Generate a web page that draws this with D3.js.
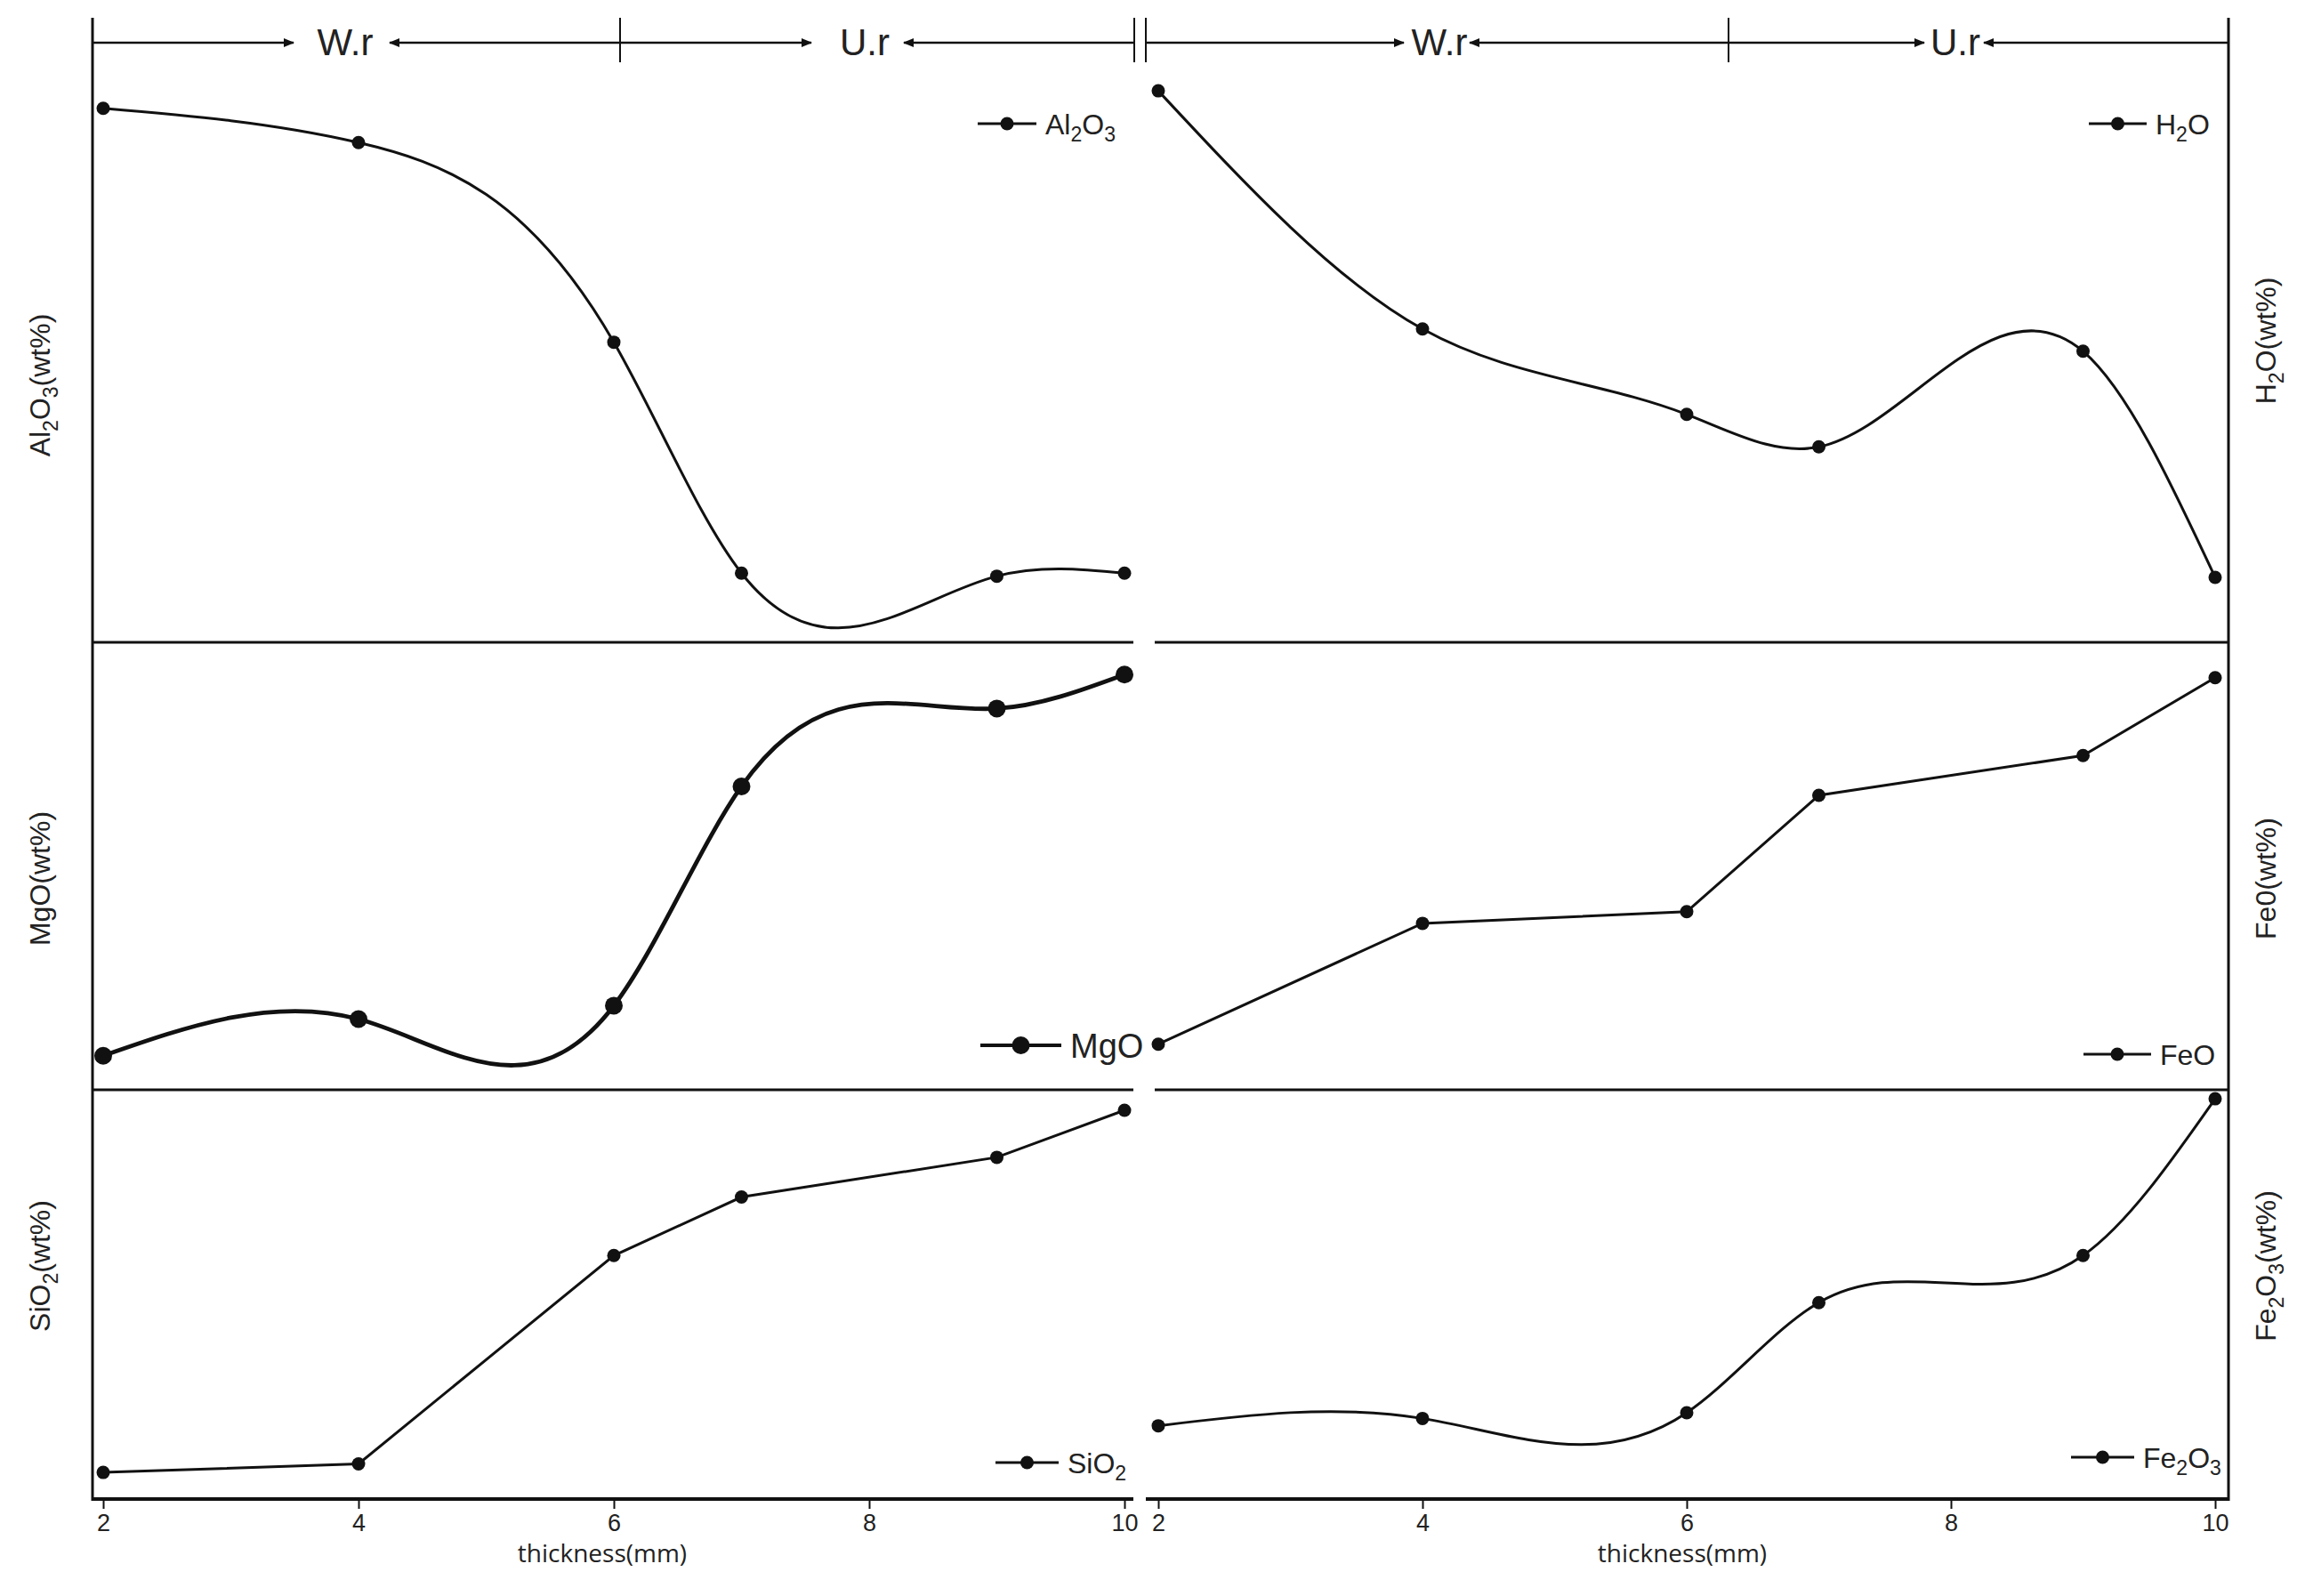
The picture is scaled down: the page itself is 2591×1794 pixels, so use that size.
<!DOCTYPE html>
<html>
<head>
<meta charset="utf-8">
<script src="https://cdn.jsdelivr.net/npm/d3@7"></script>
<style>
body { margin: 0; background: #fff; }
svg { display: block; background: #fff; }
text { fill: #222; font-family: "Liberation Sans Narrow", "Liberation Sans", Arial, sans-serif; }
</style>
</head>
<body>
<div id="main"></div>
<script>
// values, as % of each panel's height (the chart shows no y ticks)
const thickness = [2, 4, 6, 7, 9, 10];
const al2o3 = [88.8, 83.1, 49.9, 11.5, 11.0, 11.5];
const h2o = [91.7, 52.1, 37.9, 32.5, 48.4, 10.8];
const mgo = [7.6, 15.8, 18.8, 67.8, 85.2, 92.8];
const feo = [10.2, 37.2, 39.8, 65.8, 74.7, 92.1];
const sio2 = [6.5, 8.6, 59.5, 73.8, 83.5, 95.0];
const fe2o3 = [17.9, 19.7, 21.1, 48.0, 59.5, 97.8];

const xTicks = [2, 4, 6, 8, 10];
const zoneNames = ["W.r", "U.r"];
const xTitle = "thickness(mm)";

const ctx = {
    SVG_W: 2591,
    SVG_H: 1794,
    // columns: frame left/right and the x range of 2..10
    cols: [
        { x0: 104, x1: 1276, r0: 116, r1: 1264 },
        { x0: 1288, x1: 2505, r0: 1302, r1: 2490 },
    ],
    rows: [
        { y0: 46, y1: 722 },
        { y0: 722, y1: 1225 },
        { y0: 1225, y1: 1685 },
    ],
};

// legend: [line start, line end, y]
const panels = [
    { name: "Al_2O_3", values: al2o3, col: 0, row: 0, smooth: true, legend: [1099, 1165, 139], fs: 32, big: false },
    { name: "H_2O", values: h2o, col: 1, row: 0, smooth: true, legend: [2348, 2413, 139], fs: 32, big: false },
    { name: "MgO", values: mgo, col: 0, row: 1, smooth: true, legend: [1102, 1193, 1175], fs: 38, big: true },
    { name: "FeO", values: feo, col: 1, row: 1, smooth: false, legend: [2342, 2418, 1185], fs: 32, big: false },
    { name: "SiO_2", values: sio2, col: 0, row: 2, smooth: false, legend: [1119, 1190, 1644], fs: 32, big: false },
    { name: "Fe_2O_3", values: fe2o3, col: 1, row: 2, smooth: true, legend: [2328, 2399, 1638], fs: 32, big: false },
];
const yLabels = ["Al_2O_3(wt%)", "H_2O(wt%)", "MgO(wt%)", "Fe0(wt%)", "SiO_2(wt%)", "Fe_2O_3(wt%)"];

// natural cubic spline of y as a function of x (like the plotting program's spline),
// written as a d3 curve so d3.line can use it
function NaturalX(context) { this._context = context; }
NaturalX.prototype = {
    areaStart: function () {},
    areaEnd: function () {},
    lineStart: function () { this._x = []; this._y = []; },
    point: function (x, y) { this._x.push(+x); this._y.push(+y); },
    lineEnd: function () {
        let xs = this._x, ys = this._y, n = xs.length, c2 = this._context;
        if (!n) return;
        c2.moveTo(xs[0], ys[0]);
        if (n < 3) {
            for (let i = 1; i < n; i++) c2.lineTo(xs[i], ys[i]);
            return;
        }
        let h = [], m = new Array(n).fill(0), a = [], b = [], c = [], r = [];
        for (let i = 0; i < n - 1; i++) h[i] = xs[i + 1] - xs[i];
        for (let i = 1; i < n - 1; i++) {
            a[i] = h[i - 1];
            b[i] = 2 * (h[i - 1] + h[i]);
            c[i] = h[i];
            r[i] = 6 * ((ys[i + 1] - ys[i]) / h[i] - (ys[i] - ys[i - 1]) / h[i - 1]);
        }
        for (let i = 2; i < n - 1; i++) {
            let w = a[i] / b[i - 1];
            b[i] -= w * c[i - 1];
            r[i] -= w * r[i - 1];
        }
        m[n - 2] = r[n - 2] / b[n - 2];
        for (let i = n - 3; i >= 1; i--) m[i] = (r[i] - c[i] * m[i + 1]) / b[i];
        for (let i = 0; i < n - 1; i++) {
            let s = (ys[i + 1] - ys[i]) / h[i];
            let d0 = s - h[i] * (2 * m[i] + m[i + 1]) / 6;
            let d1 = s + h[i] * (m[i] + 2 * m[i + 1]) / 6;
            c2.bezierCurveTo(
                xs[i] + h[i] / 3, ys[i] + d0 * h[i] / 3,
                xs[i + 1] - h[i] / 3, ys[i + 1] - d1 * h[i] / 3,
                xs[i + 1], ys[i + 1]);
        }
    },
};
function curveNaturalX(context) { return new NaturalX(context); }

// write a formula with the digits after "_" as subscripts
function chemText(textEl, label, size) {
    let down = false;
    label.split(/_(\d)/).forEach(function (part, i) {
        if (part === "") return;
        let t = textEl.append("tspan").text(part);
        if (i % 2 === 1) {
            t.attr("font-size", size * 0.72).attr("dy", size * 0.28);
            down = true;
        } else if (down) {
            t.attr("dy", -size * 0.28);
            down = false;
        }
    });
}

function drawFrame(svgEl) {
    let g = svgEl.append("g").attr("stroke", "#111").attr("fill", "none");
    // left axis and right border
    g.append("line").attr("x1", 104).attr("x2", 104).attr("y1", 20).attr("y2", 1687).attr("stroke-width", 3);
    g.append("line").attr("x1", 2505).attr("x2", 2505).attr("y1", 20).attr("y2", 1687).attr("stroke-width", 3);
    // row separators, with a small gap between the two columns
    ctx.rows.slice(1).forEach(function (r) {
        ctx.cols.forEach(function (c, i) {
            g.append("line")
                .attr("x1", c.x0 + (i === 1 ? 10 : 0)).attr("x2", c.x1 - (i === 0 ? 2 : 0))
                .attr("y1", r.y0).attr("y2", r.y0)
                .attr("stroke-width", 3);
        });
    });
    // bottom axes
    ctx.cols.forEach(function (c, i) {
        g.append("line")
            .attr("x1", c.x0).attr("x2", c.x1 - (i === 0 ? 2 : 0))
            .attr("y1", 1685).attr("y2", 1685)
            .attr("stroke-width", 4);
    });
}

function drawHeader(svgEl) {
    let defs = svgEl.append("defs");
    defs.append("marker")
        .attr("id", "arrow")
        .attr("viewBox", "0 0 10 10")
        .attr("refX", 9).attr("refY", 5)
        .attr("markerWidth", 5).attr("markerHeight", 5)
        .attr("orient", "auto-start-reverse")
        .append("path").attr("d", "M0,1 L10,5 L0,9 Z").attr("fill", "#111");

    let g = svgEl.append("g").attr("stroke", "#111").attr("fill", "none");
    let hy = 48;
    // vertical separators in the header strip
    [697, 1275, 1288, 1943].forEach(function (x) {
        g.append("line").attr("x1", x).attr("x2", x).attr("y1", 20).attr("y2", 70).attr("stroke-width", 2);
    });
    // [from, to] pairs, the head sits at "to"
    let arrows = [
        [104, 330], [697, 438], [697, 912], [1275, 1016],
        [1288, 1578], [1943, 1652], [1943, 2163], [2505, 2230],
    ];
    arrows.forEach(function (a) {
        g.append("line")
            .attr("x1", a[0]).attr("x2", a[1]).attr("y1", hy).attr("y2", hy)
            .attr("stroke-width", 2.5)
            .attr("marker-end", "url(#arrow)");
    });
    let labelX = [388, 972, 1618, 2198];
    labelX.forEach(function (x, i) {
        svgEl.append("text")
            .attr("x", x).attr("y", hy + 14)
            .attr("text-anchor", "middle")
            .attr("font-size", 42)
            .text(zoneNames[i % 2]);
    });
}

function drawPanel(svgEl, p) {
    let c = ctx.cols[p.col];
    let r = ctx.rows[p.row];
    let x = d3.scaleLinear().domain([2, 10]).range([c.r0, c.r1]);
    let y = d3.scaleLinear().domain([0, 100]).range([r.y1, r.y0]);
    let pts = thickness.map(function (t, i) { return [t, p.values[i]]; });

    let line = d3.line()
        .x(function (d) { return x(d[0]); })
        .y(function (d) { return y(d[1]); })
        .curve(p.smooth ? curveNaturalX : d3.curveLinear);

    let g = svgEl.append("g");
    g.append("path")
        .datum(pts)
        .attr("d", line)
        .attr("fill", "none")
        .attr("stroke", "#111")
        .attr("stroke-width", p.big ? 4.8 : 3);
    g.selectAll("circle")
        .data(pts)
        .enter()
        .append("circle")
        .attr("cx", function (d) { return x(d[0]); })
        .attr("cy", function (d) { return y(d[1]); })
        .attr("r", p.big ? 10 : 7.5)
        .attr("fill", "#111");

    // legend
    let lg = p.legend;
    g.append("line")
        .attr("x1", lg[0]).attr("x2", lg[1]).attr("y1", lg[2]).attr("y2", lg[2])
        .attr("stroke", "#111").attr("stroke-width", p.big ? 4 : 3);
    g.append("circle")
        .attr("cx", (lg[0] + lg[1]) / 2).attr("cy", lg[2])
        .attr("r", p.big ? 10 : 7.5)
        .attr("fill", "#111");
    let t = g.append("text")
        .attr("x", lg[1] + 10).attr("y", lg[2] + p.fs * 0.36)
        .attr("font-size", p.fs);
    if (p.big || p.name === "FeO") t.style("font-family", "'Liberation Sans', Arial, sans-serif");
    chemText(t, p.name, p.fs);

    // y label, rotated
    let lx = p.col === 0 ? 56 : 2558;
    let ly = p.row === 0 ? (p.col === 0 ? 433 : 383) : (r.y0 + r.y1) / 2 - (p.row === 1 ? -14 : 32);
    let yl = svgEl.append("text")
        .attr("transform", "translate(" + lx + "," + ly + ") rotate(-90)")
        .attr("text-anchor", "middle")
        .attr("font-size", 32);
    chemText(yl, yLabels[p.col + p.row * 2], 32);

    // bottom axis ticks and labels, only on the last row
    if (p.row === 2) {
        let axis = d3.axisBottom(x).tickValues(xTicks).tickSize(9).tickPadding(6);
        let ag = svgEl.append("g")
            .attr("transform", "translate(0,1687)")
            .call(axis);
        ag.select(".domain").remove();
        ag.selectAll(".tick line").attr("stroke", "#111").attr("stroke-width", 2);
        ag.selectAll(".tick text")
            .attr("font-size", 27)
            .attr("fill", "#222")
            .style("font-family", "'Liberation Sans Narrow', 'Liberation Sans', sans-serif");
        svgEl.append("text")
            .attr("x", (c.r0 + c.r1) / 2 + (p.col === 0 ? -13 : -5))
            .attr("y", 1756)
            .attr("text-anchor", "middle")
            .attr("font-size", 28)
            .style("font-family", "'Open Sans', sans-serif")
            .text(xTitle);
    }
}

function createViz() {
    let svgEl = d3.select("#main").append("svg");
    svgEl.attr("width", ctx.SVG_W);
    svgEl.attr("height", ctx.SVG_H);
    drawFrame(svgEl);
    drawHeader(svgEl);
    panels.forEach(function (p) { drawPanel(svgEl, p); });
}

createViz();
</script>
</body>
</html>
